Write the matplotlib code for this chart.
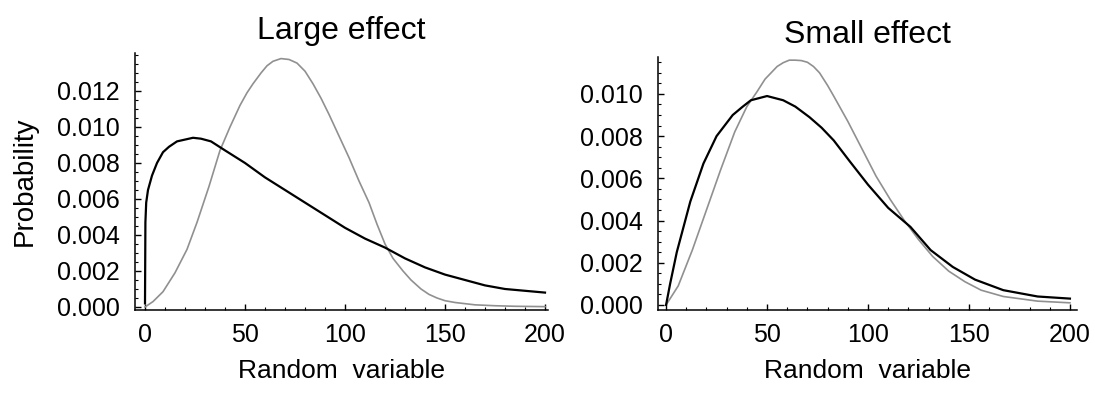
import matplotlib
matplotlib.use("Agg")
import matplotlib.pyplot as plt
from matplotlib.ticker import MultipleLocator, FormatStrFormatter

# ----------- DATA -----------

# Large effect, grey curve
large_grey_x = [0, 4, 9, 15, 21, 26, 32, 37.5, 42.5, 47.5, 51, 54, 58, 61, 64, 68, 72,
                76, 80, 84, 88, 92, 97, 102, 107, 112, 116, 120, 124, 129, 133, 138, 142,
                146, 150, 155, 165, 175, 185, 200]
large_grey_y = [0.0, 0.0003, 0.00085, 0.0019, 0.0032, 0.0047, 0.0067, 0.0087, 0.0100,
                0.0112, 0.0119, 0.0124, 0.0130, 0.0134, 0.01365, 0.0138, 0.01375,
                0.01355, 0.0131, 0.0124, 0.0116, 0.0107, 0.0095, 0.0083, 0.0070, 0.0058,
                0.0046, 0.0035, 0.0027, 0.0020, 0.0015, 0.0010, 0.0007,
                0.0005, 0.00035, 0.00025, 0.00012, 0.00007, 0.00004, 0.00002]

# Large effect, black curve
large_black_x = [0, 0.2, 0.6, 1.5, 3.5, 6, 9, 12, 16, 20, 24, 28, 33, 40, 50, 60, 70,
                 80, 90, 100, 110, 120, 130, 140, 150, 160, 170, 180, 190, 200]
large_black_y = [0.0002, 0.0047, 0.0058, 0.0065, 0.0073, 0.0080, 0.0086, 0.0089, 0.0092,
                 0.0093, 0.0094, 0.00935, 0.0092, 0.0087, 0.0080, 0.0072, 0.0065, 0.0058,
                 0.0051, 0.0044, 0.0038, 0.0033, 0.0027, 0.0022, 0.0018, 0.0015, 0.0012,
                 0.0010, 0.0009, 0.0008]

# Small effect, grey curve
small_grey_x = [0, 6, 13, 20, 27, 34, 40, 45, 49, 52, 55, 58, 61, 64, 67, 70, 73, 76, 80,
                83, 90, 97, 104, 111, 118, 125, 132, 140, 148, 156, 167, 184, 200]
small_grey_y = [0.0, 0.0009, 0.0026, 0.0045, 0.0064, 0.0082, 0.0094, 0.0101, 0.0107,
                0.0110, 0.0113, 0.01148, 0.0116, 0.0116, 0.01158, 0.0115, 0.0113, 0.0110,
                0.0104, 0.0099, 0.0087, 0.0074, 0.0061, 0.0050, 0.0040, 0.0031, 0.0023,
                0.0016, 0.0011, 0.0007, 0.0004, 0.00018, 0.0001]

# Small effect, black curve
small_black_x = [0, 2, 5.3, 12, 18.5, 25, 33, 38, 42, 46, 50, 54, 58, 64, 71, 77, 83, 91,
                 100, 110, 121, 131, 142, 153, 167, 184, 200]
small_black_y = [0.0, 0.0010, 0.0025, 0.0049, 0.0067, 0.0080, 0.0090, 0.0094, 0.0097,
                 0.0098, 0.0099, 0.0098, 0.0097, 0.0094, 0.0089, 0.0084, 0.0078, 0.0068,
                 0.0057, 0.0046, 0.0037, 0.0026, 0.0018, 0.0012, 0.0007, 0.0004, 0.0003]

x_ticks = [0, 50, 100, 150, 200]
large_y_ticks = [0.000, 0.002, 0.004, 0.006, 0.008, 0.010, 0.012]
small_y_ticks = [0.000, 0.002, 0.004, 0.006, 0.008, 0.010]

titles = ["Large effect", "Small effect"]

# ----------- FIGURE -----------

plt.rcParams['font.family'] = ['Liberation Sans', 'DejaVu Sans']

W, H = 1095, 397
fig = plt.figure(figsize=(W / 100, H / 100), dpi=100)

GREY = "#909090"


def px_axes(left, right, top, bottom):
    """Axes rectangle given in pixel coordinates of the figure."""
    return fig.add_axes([left / W, (H - bottom) / H, (right - left) / W, (bottom - top) / H])


def style(ax, xlim, ylim, yticks, title):
    ax.set_xlim(*xlim)
    ax.set_ylim(*ylim)
    for s in ("top", "right"):
        ax.spines[s].set_visible(False)
    for s in ("left", "bottom"):
        ax.spines[s].set_linewidth(1.1)
    ax.set_xticks(x_ticks)
    ax.set_yticks(yticks)
    ax.xaxis.set_minor_locator(MultipleLocator(10))
    ax.yaxis.set_minor_locator(MultipleLocator(0.0005))
    ax.yaxis.set_major_formatter(FormatStrFormatter("%.3f"))
    ax.tick_params(which="major", direction="in", length=4, width=1, labelsize=18)
    ax.tick_params(which="minor", direction="in", length=2.2, width=0.8)
    ax.tick_params(axis="y", pad=11)
    ax.tick_params(axis="x", pad=9)
    ax.set_title(title, fontsize=23, pad=10)
    ax.set_xlabel("Random  variable", fontsize=19, labelpad=9)


ax1 = px_axes(135, 548, 53, 310)
ax1.plot(large_grey_x, large_grey_y, color=GREY, lw=1.2)
ax1.plot(large_black_x, large_black_y, color="black", lw=1.6)
style(ax1, (-5, 201.5), (-0.000167, 0.01411), large_y_ticks, titles[0])
ax1.set_ylabel("Probability", fontsize=20, labelpad=14)

ax2 = px_axes(658, 1077, 57, 310)
ax2.plot(small_grey_x, small_grey_y, color=GREY, lw=1.2)
ax2.plot(small_black_x, small_black_y, color="black", lw=1.6)
style(ax2, (-4, 203.5), (-0.00024, 0.01175), small_y_ticks, titles[1])

fig.savefig("out.png", dpi=100, facecolor="white")
